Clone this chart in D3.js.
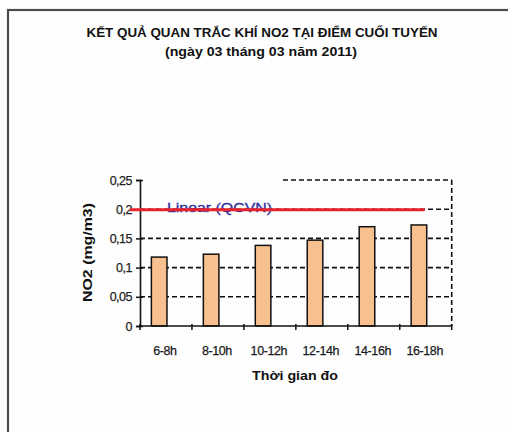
<!DOCTYPE html>
<html>
<head>
<meta charset="utf-8">
<script src="https://cdn.jsdelivr.net/npm/d3@7"></script>
<style>
  html, body { margin: 0; padding: 0; background: #ffffff; }
  svg { display: block; }
</style>
</head>
<body>
<svg id="chart" width="508" height="432"></svg>
<script>
// Time slots of the measurement day
const categories = ["6-8h", "8-10h", "10-12h", "12-14h", "14-16h", "16-18h"];
// Measured NO2 concentration (mg/m3)
const no2Values = [0.118, 0.123, 0.138, 0.147, 0.170, 0.173];
// National standard limit (QCVN) per slot
const qcvnValues = [0.2, 0.2, 0.2, 0.2, 0.2, 0.2];
// Y axis ticks and their labels
const yTicks = [0, 0.05, 0.1, 0.15, 0.2, 0.25];
const yTickLabels = ["0", "0,05", "0,1", "0,15", "0,2", "0,25"];

const titleText = "KẾT QUẢ QUAN TRẮC KHÍ NO2 TẠI ĐIỂM CUỐI TUYẾN";
const subtitleText = "(ngày 03 tháng 03 năm 2011)";
const xTitle = "Thời gian đo";
const yTitle = "NO2 (mg/m3)";
const legendText = "Linear (QCVN)";

const svg = d3.select("#chart");
const font = "'Liberation Sans', Arial, sans-serif";

// Outer chart frame
svg.append("rect")
  .attr("x", 8).attr("y", 10)
  .attr("width", 520).attr("height", 440)
  .attr("fill", "#fefefe")
  .attr("stroke", "#4d4d4d")
  .attr("stroke-width", 2.2);

// Titles
svg.append("text")
  .attr("x", 262).attr("y", 37)
  .attr("text-anchor", "middle")
  .attr("font-family", font).attr("font-weight", "bold")
  .attr("font-size", 12.5)
  .attr("textLength", 351).attr("lengthAdjust", "spacingAndGlyphs")
  .attr("fill", "#111")
  .text(titleText);

svg.append("text")
  .attr("x", 261).attr("y", 56)
  .attr("text-anchor", "middle")
  .attr("font-family", font).attr("font-weight", "bold")
  .attr("font-size", 12.5)
  .attr("textLength", 192).attr("lengthAdjust", "spacingAndGlyphs")
  .attr("fill", "#111")
  .text(subtitleText);

// Plot area
const plotLeft = 140, plotRight = 451.7, plotTop = 180, plotBottom = 326;

const x = d3.scaleBand().domain(categories).range([plotLeft, plotRight]).padding(0);
const y = d3.scaleLinear().domain([0, 0.25]).range([plotBottom, plotTop]);

const dash = "5,3";
const gridColor = "#111";

// Horizontal dashed gridlines
const gridVals = yTicks.filter(v => v > 0 && v < 0.25);
svg.append("g").selectAll("line").data(gridVals).join("line")
  .attr("x1", plotLeft).attr("x2", plotRight)
  .attr("y1", d => y(d)).attr("y2", d => y(d))
  .attr("stroke", gridColor).attr("stroke-width", 1.6)
  .attr("stroke-dasharray", dash);

// Top gridline (partly hidden behind the legend area)
svg.append("line")
  .attr("x1", 283).attr("x2", plotRight)
  .attr("y1", y(0.25)).attr("y2", y(0.25))
  .attr("stroke", gridColor).attr("stroke-width", 1.6)
  .attr("stroke-dasharray", dash);

// Right border of the plot area
svg.append("line")
  .attr("x1", plotRight).attr("x2", plotRight)
  .attr("y1", y(0.25)).attr("y2", plotBottom)
  .attr("stroke", gridColor).attr("stroke-width", 1.6)
  .attr("stroke-dasharray", dash);

// Bars: first slot of a two-series cluster
const barW = x.bandwidth() * 0.3;
svg.append("g").selectAll("rect").data(no2Values).join("rect")
  .attr("x", (d, i) => x(categories[i]) + x.bandwidth() / 2 - barW + 1)
  .attr("y", d => y(d))
  .attr("width", barW)
  .attr("height", d => plotBottom - y(d))
  .attr("fill", "#f8c08e")
  .attr("stroke", "#111")
  .attr("stroke-width", 1.5);

// Y axis
const yAxis = d3.axisLeft(y)
  .tickValues(yTicks)
  .tickFormat((d, i) => yTickLabels[i])
  .tickSize(4)
  .tickPadding(4);
const gy = svg.append("g").attr("transform", `translate(${plotLeft},0)`).call(yAxis);
gy.select(".domain").attr("stroke", "#111").attr("stroke-width", 1.6);
gy.selectAll(".tick line").attr("stroke", "#111").attr("stroke-width", 1.5)
  .attr("x1", 3);
gy.selectAll(".tick text")
  .attr("font-family", font).attr("font-size", 12.5)
  .attr("fill", "#222")
  .attr("stroke", "#222").attr("stroke-width", 0.25)
  .attr("letter-spacing", -0.5);

// X axis with ticks at category boundaries
const gx = svg.append("g").attr("transform", `translate(0,${plotBottom})`);
gx.append("line")
  .attr("x1", plotLeft).attr("x2", plotRight)
  .attr("stroke", "#111").attr("stroke-width", 1.6);
const boundaries = categories.map(c => x(c)).concat([plotRight]);
gx.selectAll("line.tk").data(boundaries).join("line")
  .attr("class", "tk")
  .attr("x1", d => d).attr("x2", d => d)
  .attr("y1", -2).attr("y2", 4)
  .attr("stroke", "#111").attr("stroke-width", 1.5);
gx.selectAll("text").data(categories).join("text")
  .attr("x", d => x(d) + x.bandwidth() / 2 - 1)
  .attr("y", 29)
  .attr("text-anchor", "middle")
  .attr("font-family", font).attr("font-size", 12.5)
  .attr("letter-spacing", -0.4)
  .attr("fill", "#1a1a1a")
  .attr("stroke", "#1a1a1a").attr("stroke-width", 0.25)
  .text(d => d);

// Axis titles
svg.append("text")
  .attr("x", 295).attr("y", 380)
  .attr("text-anchor", "middle")
  .attr("font-family", font).attr("font-weight", "bold")
  .attr("font-size", 13.5)
  .attr("textLength", 86).attr("lengthAdjust", "spacingAndGlyphs")
  .attr("fill", "#111")
  .text(xTitle);

svg.append("text")
  .attr("transform", "translate(92,252.5) rotate(-90)")
  .attr("text-anchor", "middle")
  .attr("font-family", font).attr("font-weight", "bold")
  .attr("font-size", 12.5)
  .attr("textLength", 99).attr("lengthAdjust", "spacingAndGlyphs")
  .attr("fill", "#111")
  .text(yTitle);

// Legend entry for the QCVN trendline
svg.append("text")
  .attr("x", 167).attr("y", 212)
  .attr("font-family", font).attr("font-size", 12.5)
  .attr("fill", "#30309e")
  .attr("stroke", "#30309e").attr("stroke-width", 0.3)
  .attr("textLength", 105).attr("lengthAdjust", "spacingAndGlyphs")
  .text(legendText);
svg.append("line")
  .attr("x1", 130).attr("x2", 163)
  .attr("y1", y(0.2) + 0.5).attr("y2", y(0.2) + 0.5)
  .attr("stroke", "#e8232b").attr("stroke-width", 3);

// Linear trendline through the QCVN values
const cx = i => x(categories[i]) + x.bandwidth() / 2;
const n = qcvnValues.length;
const meanI = d3.mean(qcvnValues, (d, i) => i);
const meanV = d3.mean(qcvnValues);
const slope = d3.sum(qcvnValues, (d, i) => (i - meanI) * (d - meanV)) /
              d3.sum(qcvnValues, (d, i) => (i - meanI) * (i - meanI));
const trend = i => meanV + slope * (i - meanI);
svg.append("line")
  .attr("x1", cx(0) - 3).attr("x2", cx(n - 1) - 1)
  .attr("y1", y(trend(0)) + 0.5).attr("y2", y(trend(n - 1)) + 0.5)
  .attr("stroke", "#e8232b").attr("stroke-width", 3);
</script>
</body>
</html>
